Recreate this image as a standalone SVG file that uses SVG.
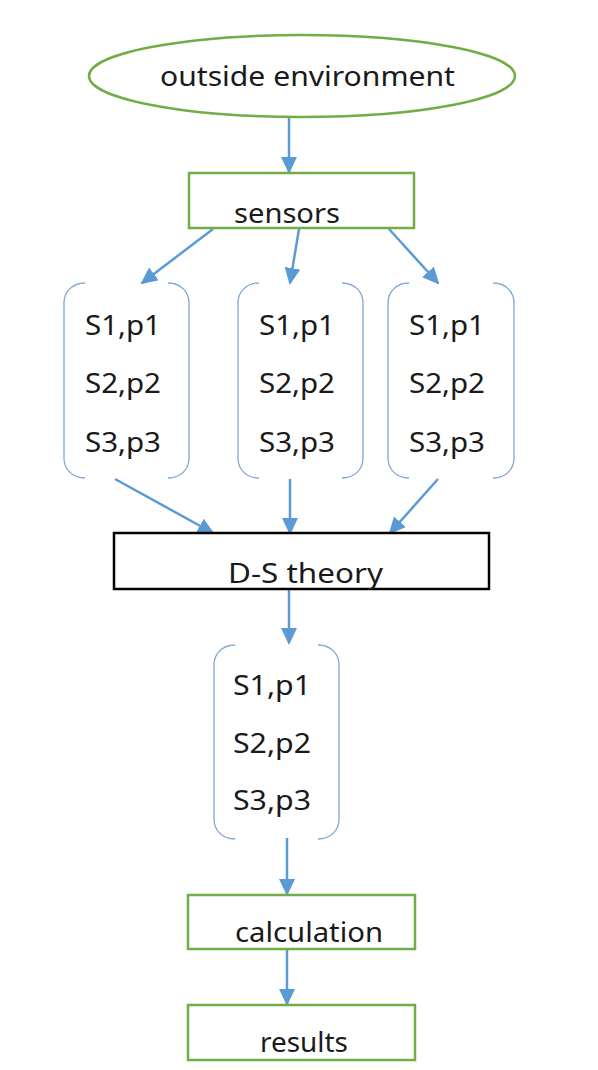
<svg xmlns="http://www.w3.org/2000/svg" width="598" height="1070" viewBox="0 0 598 1070">
<style>
  .green { fill: #ffffff; stroke: #70AD47; stroke-width: 2.5; }
  .black { fill: #ffffff; stroke: #000000; stroke-width: 2.5; }
  .bracket { fill: none; stroke: #7EA6D6; stroke-width: 1.3; }
  .conn { stroke: #5B9BD5; stroke-width: 2.5; fill: none; marker-end: url(#arrow); }
  text { font-family: "Noto Sans", "Liberation Sans", Arial, sans-serif; fill: #1a1a1a; }
  .lbl { font-size: 28px; }
  .item { font-size: 28px; }
</style>
<defs>
  <marker id="arrow" markerUnits="userSpaceOnUse" markerWidth="17" markerHeight="17" viewBox="0 0 17 17" refX="15" refY="8" orient="auto">
    <path d="M0,0 L17,8 L0,16 z" fill="#5B9BD5"/>
  </marker>
</defs>
<rect width="598" height="1070" fill="#ffffff"/>

<g id="connectors">
  <line class="conn" x1="289" y1="117" x2="289" y2="172"/>
  <line class="conn" x1="213" y1="229" x2="142" y2="283"/>
  <line class="conn" x1="299" y1="229" x2="290" y2="283"/>
  <line class="conn" x1="389" y1="229" x2="438" y2="283"/>
  <line class="conn" x1="115" y1="479" x2="213" y2="533"/>
  <line class="conn" x1="290" y1="479" x2="290" y2="533"/>
  <line class="conn" x1="438" y1="479" x2="390" y2="533"/>
  <line class="conn" x1="289" y1="590" x2="289" y2="643"/>
  <line class="conn" x1="287" y1="838" x2="287" y2="894"/>
  <line class="conn" x1="287" y1="950" x2="287" y2="1004"/>
</g>

<g id="outside-environment">
  <ellipse class="green" cx="302" cy="76" rx="213" ry="41"/>
  <text class="lbl" x="160" y="86" textLength="295" lengthAdjust="spacingAndGlyphs">outside environment</text>
</g>

<g id="sensors">
  <rect class="green" x="189" y="173" width="225" height="55"/>
  <text class="lbl" x="234" y="223" textLength="106" lengthAdjust="spacingAndGlyphs">sensors</text>
</g>

<g id="group-left">
  <path class="bracket" d="M85,283 C72,283 64,292 64,303 L64,458 C64,469 72,478 85,478"/>
  <path class="bracket" d="M168,283 C181,283 189,292 189,303 L189,458 C189,469 181,478 168,478"/>
  <text class="item" x="85" y="335" textLength="76" lengthAdjust="spacingAndGlyphs">S1,p1</text>
  <text class="item" x="85" y="393" textLength="76" lengthAdjust="spacingAndGlyphs">S2,p2</text>
  <text class="item" x="85" y="452" textLength="76" lengthAdjust="spacingAndGlyphs">S3,p3</text>
</g>

<g id="group-middle">
  <path class="bracket" d="M259,283 C246,283 238,292 238,303 L238,458 C238,469 246,478 259,478"/>
  <path class="bracket" d="M342,283 C355,283 363,292 363,303 L363,458 C363,469 355,478 342,478"/>
  <text class="item" x="259" y="335" textLength="76" lengthAdjust="spacingAndGlyphs">S1,p1</text>
  <text class="item" x="259" y="393" textLength="76" lengthAdjust="spacingAndGlyphs">S2,p2</text>
  <text class="item" x="259" y="452" textLength="76" lengthAdjust="spacingAndGlyphs">S3,p3</text>
</g>

<g id="group-right">
  <path class="bracket" d="M409,283 C396,283 388,292 388,303 L388,458 C388,469 396,478 409,478"/>
  <path class="bracket" d="M493,283 C506,283 514,292 514,303 L514,458 C514,469 506,478 493,478"/>
  <text class="item" x="409" y="335" textLength="76" lengthAdjust="spacingAndGlyphs">S1,p1</text>
  <text class="item" x="409" y="393" textLength="76" lengthAdjust="spacingAndGlyphs">S2,p2</text>
  <text class="item" x="409" y="452" textLength="76" lengthAdjust="spacingAndGlyphs">S3,p3</text>
</g>

<g id="ds-theory">
  <rect class="black" x="114" y="533" width="375" height="56"/>
  <text class="lbl" x="228" y="583" textLength="155" lengthAdjust="spacingAndGlyphs">D-S theory</text>
</g>

<g id="group-bottom">
  <path class="bracket" d="M235,645 C222,645 214,654 214,665 L214,819 C214,830 222,839 235,839"/>
  <path class="bracket" d="M318,645 C331,645 339,654 339,665 L339,819 C339,830 331,839 318,839"/>
  <text class="item" x="233" y="695" textLength="78" lengthAdjust="spacingAndGlyphs">S1,p1</text>
  <text class="item" x="233" y="753" textLength="78" lengthAdjust="spacingAndGlyphs">S2,p2</text>
  <text class="item" x="233" y="810" textLength="78" lengthAdjust="spacingAndGlyphs">S3,p3</text>
</g>

<g id="calculation">
  <rect class="green" x="188" y="895" width="227" height="54"/>
  <text class="lbl" x="235" y="942" textLength="148" lengthAdjust="spacingAndGlyphs">calculation</text>
</g>

<g id="results">
  <rect class="green" x="188" y="1005" width="227" height="55"/>
  <text class="lbl" x="260" y="1052" textLength="88" lengthAdjust="spacingAndGlyphs">results</text>
</g>
</svg>
